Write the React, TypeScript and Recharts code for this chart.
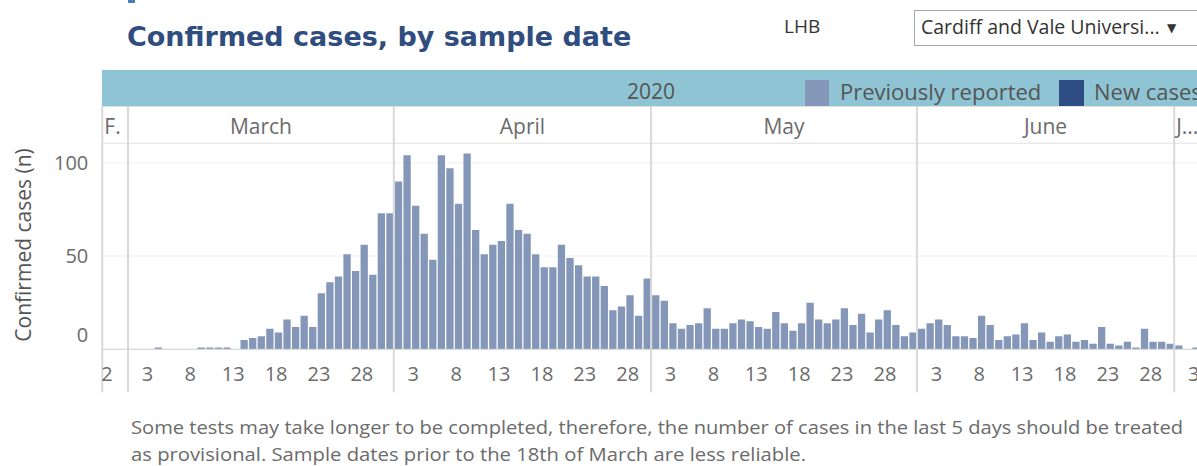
import React from 'react';
import { BarChart, Bar, XAxis, YAxis, CartesianGrid, ReferenceLine } from 'recharts';

// ---- data ----
const monthNames = ['F.', 'March', 'April', 'May', 'June', 'J...'];
const monthKeys = ['02', '03', '04', '05', '06', '07'];
const monthFirstDay = [27, 1, 1, 1, 1, 1];
const febCases = [0, 0, 0];
const marCases = [0, 0, 0, 1, 0, 0, 0, 0, 1, 1, 1, 1, 0, 5, 6, 7, 11, 9, 16, 12, 18, 12, 30, 36, 39, 51, 42, 56, 40, 73, 73];
const aprCases = [90, 104, 77, 62, 48, 104, 97, 78, 105, 64, 51, 56, 58, 78, 64, 62, 51, 44, 44, 56, 49, 45, 39, 39, 34, 21, 23, 29, 18, 38];
const mayCases = [29, 26, 14, 11, 13, 14, 22, 11, 11, 14, 16, 15, 12, 11, 20, 14, 10, 14, 25, 16, 14, 16, 22, 13, 19, 9, 16, 21, 13, 7, 9];
const junCases = [11, 14, 16, 13, 7, 7, 6, 18, 13, 5, 7, 8, 14, 5, 9, 4, 7, 8, 4, 5, 3, 12, 3, 2, 4, 1, 11, 4, 4, 3];
const julCases = [2, 0, 1];
const tickDays = [3, 8, 13, 18, 23, 28];
const clippedTickLabels: Record<string, string> = { '02-27': '2' };
const yTicks = [0, 50, 100];

const caseLists = [febCases, marCases, aprCases, mayCases, junCases, julCases];

type Row = { id: string; month: number; day: number; cases: number; label: string };
const data: Row[] = caseLists.flatMap((list, mi) =>
  list.map((v, i) => {
    const day = monthFirstDay[mi] + i;
    const id = `${monthKeys[mi]}-${String(day).padStart(2, '0')}`;
    const label = clippedTickLabels[id] ?? (mi > 0 && tickDays.includes(day) ? String(day) : '');
    return { id, month: mi, day, cases: v, label };
  })
);
const byId: Record<string, Row> = {};
data.forEach((d) => (byId[d.id] = d));
const monthStartIds = caseLists.map((_, mi) => data.find((d) => d.month === mi)!.id);

// ---- layout ----
const CHART_W = 1212;
const CHART_H = 400;
const PLOT_LEFT = 102.3;
const BAND = 8.575;
const PLOT_W = BAND * data.length;
const PLOT_TOP = 143;
const TOP_AXIS_H = 38;
const PLOT_BOTTOM = 349.3;
const BOTTOM_AXIS_H = 45;

const FONT = '"Open Sans", "DejaVu Sans", sans-serif';
const TICK_COLOR = '#6b6b6b';
const BAR_COLOR = '#8497b9';

const DayTick = (props: any) => {
  const { x, y, payload } = props;
  const d = byId[payload.value];
  if (!d || !d.label) return <g />;
  const clipped = d.month === 0;
  return (
    <text
      x={clipped ? x - BAND / 2 - 1 : x - 2}
      y={y + 32}
      textAnchor={clipped ? 'start' : 'middle'}
      fontFamily={FONT}
      fontSize={20}
      fill={TICK_COLOR}
    >
      {d.label}
    </text>
  );
};

const MonthTick = (props: any) => {
  const { x, y, payload } = props;
  const d = byId[payload.value];
  if (!d) return <g />;
  const mi = d.month;
  const len = caseLists[mi].length;
  const full = mi > 0 && mi < caseLists.length - 1;
  const tx = full ? x + ((len - 1) / 2) * BAND : x - BAND / 2 + 2;
  return (
    <text x={tx} y={y - 9} textAnchor={full ? 'middle' : 'start'} fontFamily={FONT} fontSize={21} fill={TICK_COLOR}>
      {monthNames[mi]}
    </text>
  );
};

const YTick = (props: any) => {
  const { x, y, payload } = props;
  const shift = payload.value === 0 ? -14 : 0;
  return (
    <text x={x} y={y + 7 + shift} textAnchor="end" fontFamily={FONT} fontSize={20} fill={TICK_COLOR}>
      {payload.value}
    </text>
  );
};

const Divider = (p: any) => {
  const top = Math.min(p.y1, p.y2);
  const bottom = Math.max(p.y1, p.y2);
  return (
    <line x1={p.x1} x2={p.x2} y1={top - TOP_AXIS_H + 1} y2={bottom + 43} stroke="#d9d9d9" strokeWidth={2} />
  );
};

export default function App() {
  return (
    <div style={{ position: 'absolute', left: 0, top: 0, width: 1197, height: 466, overflow: 'hidden', background: '#fff' }}>
      <svg width={1197} height={466} style={{ position: 'absolute', left: 0, top: 0 }}>
        <rect x={128} y={0} width={7} height={3} fill="#4a7ebb" />
        <text x={127} y={46} fontFamily='"DejaVu Sans", Verdana, sans-serif' fontWeight="bold" fontSize={27} fill="#2f4d7e">
          Confirmed cases, by sample date
        </text>
        <text x={784} y={33} fontFamily={FONT} fontSize={19} fill="#333">LHB</text>
        <rect x={914.5} y={10.5} width={300} height={35} fill="#fff" stroke="#a9a9a9" />
        <text x={921} y={34} fontFamily={FONT} fontSize={19.5} fill="#333">Cardiff and Vale Universi...</text>
        <text x={1167} y={32} fontFamily='"DejaVu Sans", sans-serif' fontSize={12} fill="#333">▼</text>

        <rect x={102} y={70} width={1100} height={36} fill="#8fc4d4" />
        <text x={PLOT_LEFT + PLOT_W / 2} y={99} textAnchor="middle" fontFamily={FONT} fontSize={21} fill="#555">2020</text>
        <rect x={805} y={80} width={24} height={26} fill={BAR_COLOR} />
        <text x={840} y={100} fontFamily={FONT} fontSize={22} fill="#555">Previously reported</text>
        <rect x={1059} y={80} width={25} height={26} fill="#2e4d84" />
        <text x={1094} y={100} fontFamily={FONT} fontSize={22} fill="#555">New cases</text>

        <line x1={102} x2={1197} y1={106.5} y2={106.5} stroke="#e2e2e2" />
        <line x1={102} x2={1197} y1={143.5} y2={143.5} stroke="#e2e2e2" />

        <text
          transform="translate(31, 245) rotate(-90)"
          textAnchor="middle"
          fontFamily={FONT}
          fontSize={21}
          fill="#555"
        >
          Confirmed cases (n)
        </text>

        <text x={131} y={434} fontFamily={FONT} fontSize={18} fill="#6b6b6b" textLength={1052} lengthAdjust="spacingAndGlyphs">
          Some tests may take longer to be completed, therefore, the number of cases in the last 5 days should be treated
        </text>
        <text x={131} y={461} fontFamily={FONT} fontSize={18} fill="#6b6b6b" textLength={675} lengthAdjust="spacingAndGlyphs">
          as provisional. Sample dates prior to the 18th of March are less reliable.
        </text>
      </svg>

      <BarChart
        width={CHART_W}
        height={CHART_H}
        data={data}
        style={{ position: 'absolute', left: 0, top: 0 }}
        margin={{
          top: PLOT_TOP - TOP_AXIS_H,
          left: 0,
          right: CHART_W - PLOT_LEFT - PLOT_W,
          bottom: CHART_H - PLOT_BOTTOM - BOTTOM_AXIS_H,
        }}
      >
        <CartesianGrid vertical={false} stroke="#efefef" />
        <XAxis
          dataKey="id"
          interval={0}
          tickLine={false}
          axisLine={false}
          tickSize={0}
          tickMargin={0}
          height={BOTTOM_AXIS_H}
          tick={<DayTick />}
        />
        <XAxis
          xAxisId="top"
          orientation="top"
          dataKey="id"
          ticks={monthStartIds}
          interval={0}
          tickLine={false}
          axisLine={false}
          tickSize={0}
          tickMargin={0}
          height={TOP_AXIS_H}
          tick={<MonthTick />}
        />
        <YAxis
          domain={[0, 110.6]}
          ticks={yTicks}
          width={PLOT_LEFT}
          tickLine={false}
          axisLine={false}
          tickSize={0}
          tickMargin={14}
          tick={<YTick />}
          allowDataOverflow
        />
        {monthStartIds.map((id) => (
          <ReferenceLine key={id} x={id} position="start" shape={<Divider />} />
        ))}
        <ReferenceLine y={0} stroke="#d2d2d2" />
        <Bar dataKey="cases" fill={BAR_COLOR} barSize={7.3} isAnimationActive={false} />
      </BarChart>
    </div>
  );
}
